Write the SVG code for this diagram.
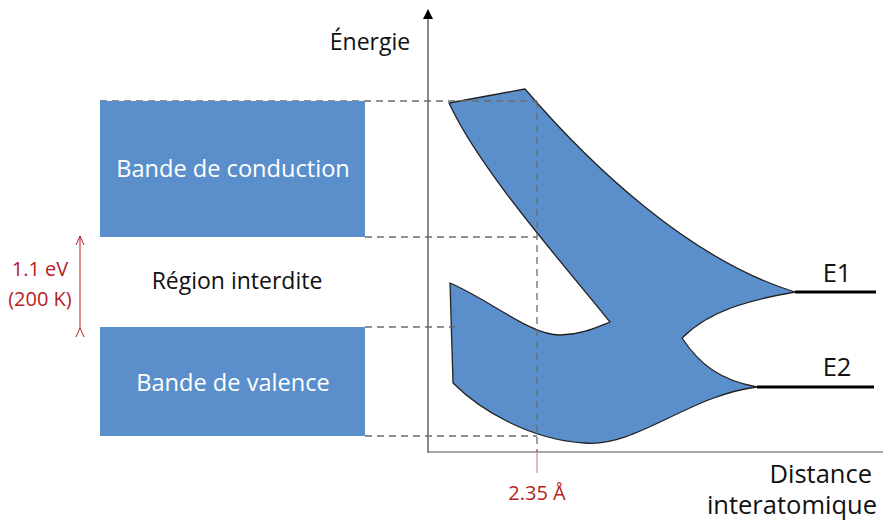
<svg xmlns="http://www.w3.org/2000/svg" width="883" height="525" viewBox="0 0 883 525">
<defs>
<style>
text{font-family:"Open Sans","Liberation Sans",sans-serif;fill:#111}
.lbl{font-size:23px}
.axl{font-size:25.5px}
.red{fill:#b81c24;font-size:20px}
.dash{stroke:#6b6b6b;stroke-width:1.3;stroke-dasharray:7 5;fill:none}
.box{fill:#5b8fcb}
.box-text{fill:#fff;font-size:23.6px}
</style>
<marker id="ah" markerWidth="10" markerHeight="10" refX="5" refY="5" orient="auto" markerUnits="userSpaceOnUse"><path d="M0,0 L10,5 L0,10 z" fill="#000"/></marker>
<marker id="ra" markerWidth="10" markerHeight="10" refX="9" refY="5" orient="auto" markerUnits="userSpaceOnUse"><path d="M0,1 L9,5 L0,9" fill="none" stroke="#b81c24" stroke-width="1"/></marker>
</defs>
<rect width="883" height="525" fill="#fff"/>
<g id="axes">
<line x1="428" y1="453" x2="428" y2="14" stroke="#8a8a8a" stroke-width="2" marker-end="url(#ah)"/>
<line x1="428" y1="452" x2="883" y2="452" stroke="#8a8a8a" stroke-width="1.5"/>
<text x="370" y="50" class="lbl" text-anchor="middle">Énergie</text>
<text x="872" y="483" class="axl" text-anchor="end">Distance</text>
<text x="877" y="514" class="axl" text-anchor="end">interatomique</text>
</g>
<g id="bands-shape">
<path d="M449,103 L525,89 C590,165 690,260 795,292 C750,300 710,310 682,338 C700,365 720,380 757,387 C690,395 635,448 585,443 C530,440 480,410 453,383 L450,283 C490,300 530,335 560,335 C580,335 595,328 610,322 C560,260 480,170 449,103 Z" fill="#5b8fcb" stroke="#222" stroke-width="1.3" stroke-linejoin="round"/>
<line x1="795" y1="292" x2="876" y2="292" stroke="#000" stroke-width="3"/>
<line x1="757" y1="387" x2="874" y2="387" stroke="#000" stroke-width="3"/>
<text x="837" y="282" class="axl" text-anchor="middle">E1</text>
<text x="837" y="376" class="axl" text-anchor="middle">E2</text>
</g>
<g id="connectors">
<line x1="100" y1="101" x2="537" y2="101" class="dash"/>
<line x1="365" y1="237" x2="537" y2="237" class="dash"/>
<line x1="365" y1="327" x2="455" y2="327" class="dash"/>
<line x1="365" y1="436" x2="537" y2="436" class="dash"/>
<line x1="537" y1="101" x2="537" y2="452" class="dash"/>
<line x1="537" y1="452" x2="537" y2="473" stroke="#d8959a" stroke-width="1.3"/>
<line x1="80" y1="328" x2="80" y2="236" stroke="#b81c24" stroke-width="1" marker-end="url(#ra)" marker-start="url(#ra)"/>
</g>
<g id="conduction">
<rect x="100" y="101" width="265" height="136" class="box"/>
<text x="233" y="177" class="box-text" text-anchor="middle">Bande de conduction</text>
</g>
<g id="gap">
<text x="237" y="289" class="lbl" text-anchor="middle">Région interdite</text>
<text x="40" y="276" class="red" text-anchor="middle">1.1 eV</text>
<text x="40" y="306" class="red" text-anchor="middle">(200 K)</text>
</g>
<g id="valence">
<rect x="100" y="327" width="265" height="109" class="box"/>
<text x="233" y="391" class="box-text" text-anchor="middle">Bande de valence</text>
</g>
<g id="distance-label">
<text x="537" y="500" class="red" text-anchor="middle">2.35 Å</text>
</g>
</svg>
